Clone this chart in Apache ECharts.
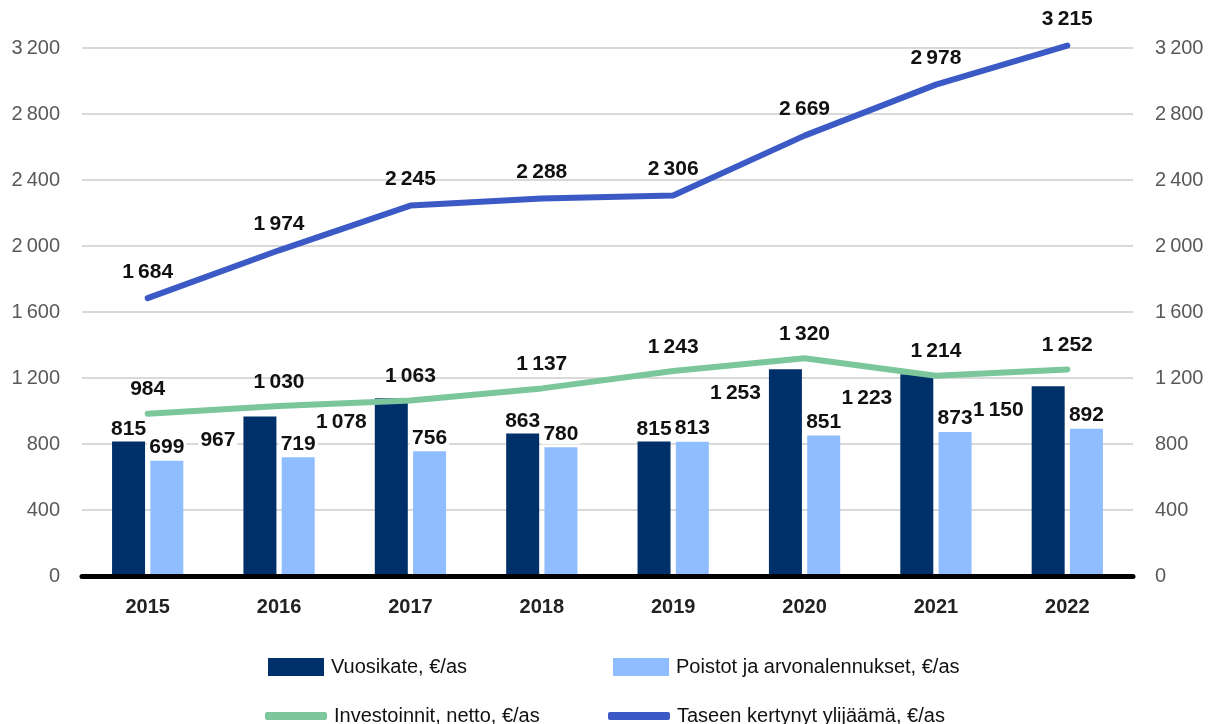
<!DOCTYPE html>
<html lang="fi">
<head>
    <meta charset="UTF-8">
    <title>Talouden tunnusluvut</title>
    <script src="https://cdn.jsdelivr.net/npm/echarts/dist/echarts.min.js"></script>
    <style>
        body { margin: 0; padding: 0; background: #fff; }
        #chart { width: 1212px; height: 724px; }
    </style>
</head>
<body>
    <div id="chart"></div>

    <script>
        // data
        const years = ['2015', '2016', '2017', '2018', '2019', '2020', '2021', '2022'];
        const vuosikate = [815, 967, 1078, 863, 815, 1253, 1223, 1150];
        const poistot = [699, 719, 756, 780, 813, 851, 873, 892];
        const investoinnit = [984, 1030, 1063, 1137, 1243, 1320, 1214, 1252];
        const ylijaama = [1684, 1974, 2245, 2288, 2306, 2669, 2978, 3215];
        // which Vuosikate labels sit left of the bar instead of above it
        const vuosikateLabelLeft = [false, true, true, false, false, true, true, true];

        const font = "'Liberation Sans', Arial, sans-serif";
        // thousands separated by a narrow space, like "3 200"
        const fmt = v => String(v).replace(/\B(?=(\d{3})+(?!\d))/g, '\u2009');

        const navy = '#00306a';
        const lightBlue = '#8fbdff';
        const green = '#7bc79b';
        const blue = '#3b5ac6';

        const chart = echarts.init(document.getElementById('chart'));

        const valueLabel = {
            show: true,
            fontFamily: font,
            fontSize: 21,
            fontWeight: 'bold',
            color: '#111',
            formatter: p => fmt(p.value)
        };

        const yAxisBase = {
            type: 'value',
            min: 0,
            max: 3200,
            interval: 400,
            axisLine: { show: false },
            axisTick: { show: false },
            axisLabel: {
                fontFamily: font,
                fontSize: 20,
                color: '#595959',
                margin: 22,
                formatter: v => fmt(v)
            }
        };

        const legendText = { fontFamily: font, fontSize: 20, color: '#111', padding: [0, 0, 0, 2] };

        const option = {
            animation: false,
            grid: { left: 82, right: 79, top: 48, bottom: 148 },
            legend: [
                { data: ['Vuosikate, €/as'], left: 263, top: 652, itemWidth: 56, itemHeight: 18, icon: 'rect', textStyle: legendText },
                { data: ['Poistot ja arvonalennukset, €/as'], left: 608, top: 652, itemWidth: 56, itemHeight: 18, icon: 'rect', textStyle: legendText },
                { data: ['Investoinnit, netto, €/as'], left: 260, top: 701, itemWidth: 62, itemHeight: 8, icon: 'roundRect', textStyle: legendText },
                { data: ['Taseen kertynyt ylijäämä, €/as'], left: 603, top: 701, itemWidth: 62, itemHeight: 8, icon: 'roundRect', textStyle: legendText }
            ],
            xAxis: {
                type: 'category',
                data: years,
                z: 5,
                axisLine: { lineStyle: { color: '#000', width: 5 } },
                axisTick: { show: false },
                axisLabel: {
                    fontFamily: font,
                    fontSize: 20,
                    fontWeight: 'bold',
                    color: '#222',
                    margin: 21
                }
            },
            yAxis: [
                Object.assign({}, yAxisBase, {
                    splitLine: { lineStyle: { color: '#d9d9d9', width: 2 } }
                }),
                Object.assign({}, yAxisBase, {
                    position: 'right',
                    splitLine: { show: false }
                })
            ],
            series: [
                {
                    name: 'Vuosikate, €/as',
                    type: 'bar',
                    data: vuosikate.map((v, i) => ({
                        value: v,
                        label: vuosikateLabelLeft[i]
                            ? { position: [-6, 24], align: 'right', verticalAlign: 'middle' }
                            : { position: 'top', distance: 2 }
                    })),
                    barWidth: 33,
                    barGap: '16%',
                    itemStyle: { color: navy },
                    label: Object.assign({}, valueLabel, { backgroundColor: '#fff', padding: [0, 2] }),
                    z: 2
                },
                {
                    name: 'Poistot ja arvonalennukset, €/as',
                    type: 'bar',
                    data: poistot,
                    barWidth: 33,
                    barGap: '16%',
                    itemStyle: { color: lightBlue },
                    label: Object.assign({}, valueLabel, { position: 'top', distance: 3, backgroundColor: '#fff', padding: [0, 2] }),
                    z: 2
                },
                {
                    name: 'Investoinnit, netto, €/as',
                    type: 'line',
                    data: investoinnit,
                    symbol: 'circle',
                    symbolSize: 1,
                    clip: false,
                    lineStyle: { color: green, width: 6, cap: 'round' },
                    itemStyle: { color: green },
                    label: Object.assign({}, valueLabel, { position: 'top', distance: 13 }),
                    z: 3
                },
                {
                    name: 'Taseen kertynyt ylijäämä, €/as',
                    type: 'line',
                    data: ylijaama,
                    symbol: 'circle',
                    symbolSize: 1,
                    clip: false,
                    lineStyle: { color: blue, width: 6, cap: 'round' },
                    itemStyle: { color: blue },
                    label: Object.assign({}, valueLabel, { position: 'top', distance: 15 }),
                    z: 3
                }
            ]
        };

        chart.setOption(option);
    </script>
</body>
</html>
